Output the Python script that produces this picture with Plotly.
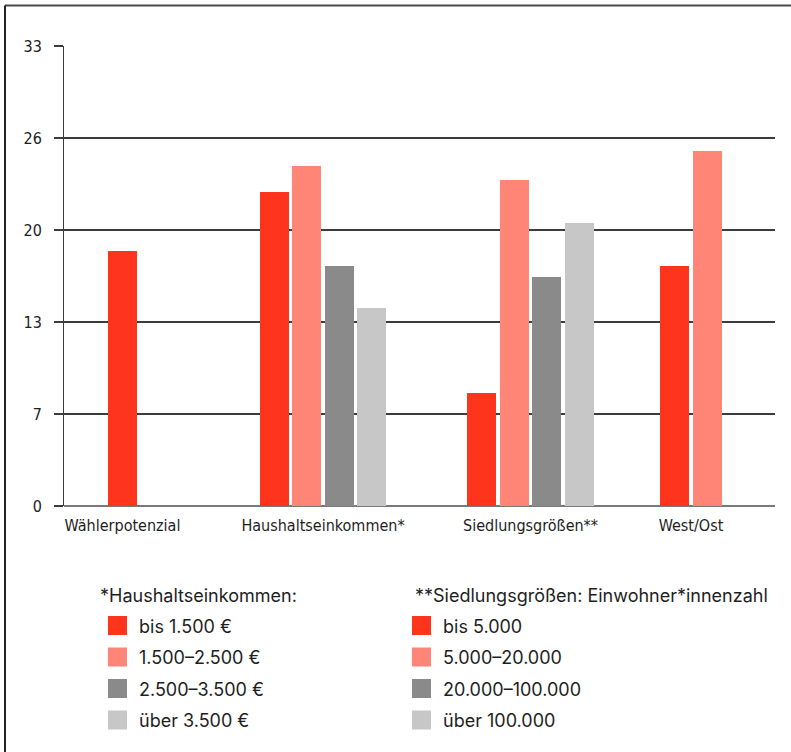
import plotly.graph_objects as go

# ---- data ----
categories = ["Wählerpotenzial", "Haushaltseinkommen*", "Siedlungsgrößen**", "West/Ost"]
waehlerpotenzial = [18.3]
haushaltseinkommen = [22.5, 24.4, 17.2, 14.2]
siedlungsgroessen = [8.1, 23.4, 16.4, 20.3]
west_ost = [17.2, 25.5]

y_tickvals = [0, 6.6, 13.2, 19.8, 26.4, 33]
y_ticktext = ["0", "7", "13", "20", "26", "33"]

legend_title_income = "*Haushaltseinkommen:"
legend_income = ["bis 1.500 €", "1.500–2.500 €", "2.500–3.500 €", "über 3.500 €"]
legend_title_settlement = "**Siedlungsgrößen: Einwohner*innenzahl"
legend_settlement = ["bis 5.000", "5.000–20.000", "20.000–100.000", "über 100.000"]

# ---- styling ----
colors = ["#FF341C", "#FF8676", "#898A89", "#C6C7C6"]
W, H = 791, 752
PLOT_L, PLOT_R, PLOT_T, PLOT_B = 64, 775, 46, 506

# horizontal centre of each category group (x-axis units = pixels from plot left)
group_centers = [58.5, 259, 466.5, 627]
bar_step = 32.5
bar_width = 29

axis_font = "DejaVu Sans Condensed, Liberation Sans Narrow, Arial Narrow, sans-serif"
legend_font = "Inter, Liberation Sans, Arial, sans-serif"
legend_size = 18
ink = "#1e1e1e"


def px(x):
    return (x - PLOT_L) / (PLOT_R - PLOT_L)


def py(y):
    return (PLOT_B - y) / (PLOT_B - PLOT_T)


fig = go.Figure()

groups = [waehlerpotenzial, haushaltseinkommen, siedlungsgroessen, west_ost]
for center, values in zip(group_centers, groups):
    n = len(values)
    xs = [center + (i - (n - 1) / 2) * bar_step for i in range(n)]
    fig.add_trace(go.Bar(
        x=xs, y=values, width=bar_width,
        marker=dict(color=colors[:n], line=dict(width=0)),
        showlegend=False, hoverinfo="y",
    ))

shapes = []
annotations = []

# outer frame (top and left edges)
shapes.append(dict(type="line", xref="paper", yref="paper",
                   x0=px(5), x1=px(W + 5), y0=py(5.5), y1=py(5.5),
                   line=dict(color="#4a4a4a", width=2)))
shapes.append(dict(type="line", xref="paper", yref="paper",
                   x0=px(5), x1=px(5), y0=py(5.5), y1=py(H + 5),
                   line=dict(color="#222222", width=2)))

# custom legend blocks
def legend_block(x_title, x_box, x_label, title, labels):
    annotations.append(dict(
        xref="paper", yref="paper", x=px(x_title), y=py(595),
        xanchor="left", yanchor="middle", showarrow=False,
        text=title, font=dict(family=legend_font, size=legend_size, color=ink)))
    for i, (lab, col) in enumerate(zip(labels, colors)):
        top = 616 + i * 31.5
        shapes.append(dict(type="rect", xref="paper", yref="paper",
                           x0=px(x_box), x1=px(x_box + 19),
                           y0=py(top + 19), y1=py(top),
                           fillcolor=col, line=dict(width=0)))
        annotations.append(dict(
            xref="paper", yref="paper", x=px(x_label), y=py(top + 10),
            xanchor="left", yanchor="middle", showarrow=False,
            text=lab, font=dict(family=legend_font, size=legend_size, color=ink)))


legend_block(98, 108, 137, legend_title_income, legend_income)
legend_block(413, 412, 441, legend_title_settlement, legend_settlement)

fig.update_layout(
    width=W, height=H,
    margin=dict(l=PLOT_L, r=W - PLOT_R, t=PLOT_T, b=H - PLOT_B, pad=0),
    paper_bgcolor="white", plot_bgcolor="white",
    barmode="overlay", bargap=0,
    shapes=shapes, annotations=annotations,
    showlegend=False,
    xaxis=dict(
        range=[0, PLOT_R - PLOT_L], tickvals=group_centers, ticktext=categories,
        showgrid=False, zeroline=False, showline=False, ticks="",
        ticklabelstandoff=8,
        tickfont=dict(family=axis_font, size=16, color=ink),
        fixedrange=True,
    ),
    yaxis=dict(
        range=[0, 33], tickvals=y_tickvals, ticktext=y_ticktext,
        showgrid=True, gridcolor="#3c3c3c", gridwidth=1.5,
        zeroline=True, zerolinecolor="#7a7a7a", zerolinewidth=2,
        showline=True, linecolor="#3c3c3c", linewidth=1,
        ticks="outside", ticklen=9, tickwidth=1.5, tickcolor="#3c3c3c",
        ticklabelstandoff=9,
        tickfont=dict(family=axis_font, size=16, color=ink),
        fixedrange=True,
    ),
)

fig.write_html("out.html")
